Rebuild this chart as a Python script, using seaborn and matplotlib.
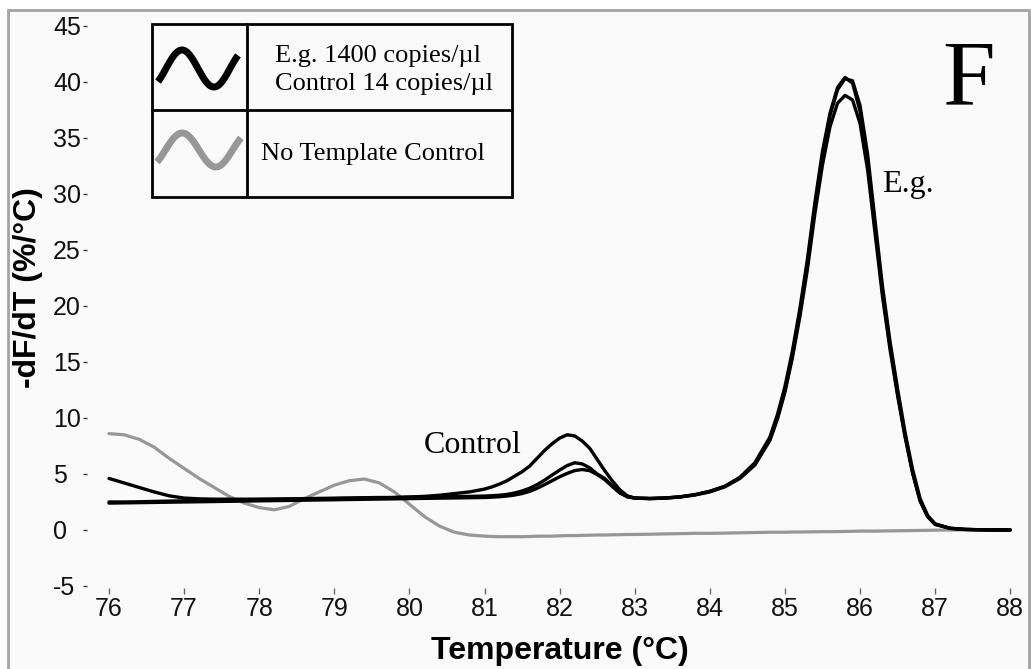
import numpy as np
import pandas as pd
import matplotlib
matplotlib.use("Agg")
import matplotlib.pyplot as plt
import seaborn as sns
from matplotlib.patches import Rectangle
from matplotlib.lines import Line2D

# ---------------- data ----------------
temps = [76.0, 76.2, 76.4, 76.6, 76.8, 77.0, 77.2, 77.4, 77.6, 77.8, 78.0, 78.2, 78.4,
         78.6, 78.8, 79.0, 79.2, 79.4, 79.6, 79.8, 80.0, 80.2, 80.4, 80.6, 80.8,
         81.0, 81.1, 81.2, 81.3, 81.4, 81.5, 81.6, 81.7, 81.8, 81.9, 82.0, 82.1,
         82.2, 82.3, 82.4, 82.5, 82.6, 82.7, 82.8, 82.9, 83.0,
         83.2, 83.4, 83.6, 83.8, 84.0, 84.2, 84.4, 84.6, 84.8,
         84.9, 85.0, 85.1, 85.2, 85.3, 85.4, 85.5, 85.6, 85.7, 85.8, 85.9, 86.0,
         86.1, 86.2, 86.3, 86.4, 86.5, 86.6, 86.7, 86.8, 86.9, 87.0,
         87.2, 87.4, 87.6, 87.8, 88.0]

no_template = [8.6, 8.5, 8.1, 7.4, 6.4, 5.5, 4.6, 3.8, 3.0, 2.4, 2.0, 1.8, 2.1,
               2.8, 3.4, 4.0, 4.4, 4.55, 4.2, 3.4, 2.3, 1.2, 0.35, -0.2, -0.45,
               -0.55, -0.58, -0.6, -0.6, -0.6, -0.6, -0.58, -0.56, -0.55, -0.55, -0.52, -0.5,
               -0.5, -0.48, -0.47, -0.45, -0.45, -0.43, -0.42, -0.4, -0.4,
               -0.38, -0.35, -0.33, -0.3, -0.3, -0.28, -0.25, -0.23, -0.2,
               -0.2, -0.2, -0.18, -0.18, -0.17, -0.16, -0.15, -0.15, -0.14, -0.13, -0.12, -0.1,
               -0.1, -0.1, -0.09, -0.08, -0.07, -0.06, -0.05, -0.04, -0.03, -0.02,
               0.0, 0.0, 0.0, 0.0, 0.0]

sample_a = [2.5, 2.5, 2.52, 2.55, 2.58, 2.6, 2.62, 2.65, 2.67, 2.7, 2.7, 2.72, 2.74,
            2.76, 2.78, 2.8, 2.82, 2.84, 2.86, 2.9, 2.95, 3.0, 3.1, 3.25, 3.4,
            3.65, 3.85, 4.1, 4.4, 4.8, 5.2, 5.7, 6.4, 7.1, 7.7, 8.2, 8.5,
            8.4, 7.95, 7.3, 6.3, 5.3, 4.4, 3.6, 3.05, 2.85,
            2.8, 2.85, 2.95, 3.15, 3.45, 3.9, 4.7, 6.0, 8.3,
            10.3, 12.8, 16.0, 19.8, 24.2, 29.3, 33.8, 37.2, 39.5, 40.4, 39.9, 37.4,
            33.0, 27.0, 21.2, 16.4, 12.2, 8.4, 5.1, 2.6, 1.2, 0.5,
            0.15, 0.05, 0.02, 0.0, 0.0]

sample_b = [4.6, 4.2, 3.8, 3.4, 3.05, 2.85, 2.78, 2.75, 2.75, 2.75, 2.76, 2.77, 2.78,
            2.8, 2.82, 2.84, 2.86, 2.88, 2.9, 2.9, 2.92, 2.94, 2.96, 2.98, 3.0,
            3.03, 3.06, 3.1, 3.18, 3.3, 3.48, 3.72, 4.05, 4.45, 4.9, 5.35, 5.75,
            6.0, 5.9, 5.55, 5.0, 4.6, 3.95, 3.35, 2.95, 2.85,
            2.82, 2.86, 2.96, 3.15, 3.45, 3.9, 4.65, 5.9, 8.1,
            10.0, 12.5, 15.6, 19.4, 23.8, 28.8, 33.4, 37.0, 39.3, 40.3, 40.1, 37.9,
            33.6, 27.6, 21.7, 16.8, 12.6, 8.7, 5.4, 2.8, 1.3, 0.55,
            0.15, 0.05, 0.02, 0.0, 0.0]

sample_c = [2.4, 2.42, 2.44, 2.46, 2.48, 2.5, 2.52, 2.54, 2.56, 2.58, 2.6, 2.62, 2.64,
            2.66, 2.68, 2.7, 2.72, 2.74, 2.76, 2.78, 2.8, 2.82, 2.84, 2.86, 2.88,
            2.9, 2.93, 2.97, 3.03, 3.12, 3.25, 3.45, 3.72, 4.05, 4.4, 4.75, 5.05,
            5.3, 5.4, 5.3, 4.95, 4.5, 3.9, 3.3, 3.0, 2.85,
            2.8, 2.84, 2.94, 3.12, 3.4, 3.85, 4.6, 5.8, 8.0,
            9.9, 12.3, 15.4, 19.1, 23.3, 28.3, 32.6, 36.0, 38.1, 38.8, 38.4, 36.3,
            32.2, 26.5, 20.8, 16.1, 12.0, 8.3, 5.1, 2.6, 1.2, 0.5,
            0.15, 0.05, 0.02, 0.0, 0.0]

x_ticks = [76, 77, 78, 79, 80, 81, 82, 83, 84, 85, 86, 87, 88]
y_ticks = [-5, 0, 5, 10, 15, 20, 25, 30, 35, 40, 45]

legend_lines = ["E.g. 1400 copies/\u00b5l", "Control 14 copies/\u00b5l"]
legend_ntc = "No Template Control"
x_label = "Temperature (\u00b0C)"
y_label = "-dF/dT (%/\u00b0C)"

# ---------------- build long-form table ----------------
frames = []
for name, vals in [("NTC", no_template), ("A", sample_a), ("B", sample_b), ("C", sample_c)]:
    frames.append(pd.DataFrame({"temp": temps, "value": vals, "curve": name}))
df = pd.concat(frames, ignore_index=True)

# ---------------- figure ----------------
sns.set_theme(style="white")
plt.rcParams["font.family"] = ["Liberation Sans", "DejaVu Sans"]
plt.rcParams["text.color"] = "black"

W, H = 1031, 669
fig = plt.figure(figsize=(W / 100, H / 100), dpi=100)
fig.patch.set_facecolor("white")


def fx(px):
    return np.asarray(px) / W


def fy(py):
    return 1 - np.asarray(py) / H


# outer grey frame with light background
fig.patches.append(Rectangle((fx(8), fy(675)), fx(1029) - fx(8), fy(10) - fy(675),
                             transform=fig.transFigure, facecolor="#fafafa",
                             edgecolor="#a3a3a3", lw=2.0, zorder=-10))

ax = fig.add_axes([fx(87), fy(588), fx(1020) - fx(87), fy(23.6) - fy(588)])
ax.set_facecolor("none")
ax.set_zorder(1)

grey = "#979797"
sns.lineplot(data=df[df["curve"] == "NTC"], x="temp", y="value", color=grey,
             linewidth=2.3, estimator=None, sort=False, ax=ax)
sns.lineplot(data=df[df["curve"] != "NTC"], x="temp", y="value", units="curve",
             color="black", linewidth=2.4, estimator=None, sort=False, ax=ax)

ax.set_xlim(75.707, 88.13)
ax.set_ylim(-5.18, 45.21)
ax.set_xticks(x_ticks)
ax.set_yticks(y_ticks)
ax.set_xticklabels([str(v) for v in x_ticks])
ax.set_yticklabels([str(v) for v in y_ticks])
ax.set_xlabel("")
ax.set_ylabel("")
for s in ax.spines.values():
    s.set_visible(False)

ax.tick_params(axis="x", bottom=True, direction="out", length=4.3, width=1.0,
               color="#666666", pad=2, labelsize=18, labelcolor="#111111")
ax.tick_params(axis="y", left=True, direction="out", length=3.0, width=1.0,
               color="#333333", pad=21.5, labelsize=18, labelcolor="#111111")
for t in ax.get_yticklabels():
    t.set_horizontalalignment("left")

# axis labels
fig.text(fx(560), fy(659), x_label, ha="center", va="baseline", fontsize=23,
         fontweight="bold", color="black")
fig.text(fx(28), fy(288), y_label, ha="center", va="center", rotation=90,
         fontsize=23, fontweight="bold", color="black")

# annotations
serif = ["Liberation Serif", "DejaVu Serif"]
ax.text(80.19, 6.9, "Control", fontsize=23, family=serif, ha="left", va="baseline",
        color="black")
ax.text(86.29, 30.2, "E.g.", fontsize=23, family=serif, ha="left", va="baseline",
        color="black")
fig.text(fx(942), fy(104), "F", fontsize=68, family=serif, ha="left", va="baseline",
         color="black")

# legend table (drawn above the axes)
L, R, T, B = 152, 512, 24, 197
VX, HY = 247, 110
fig.patches.append(Rectangle((fx(L), fy(B)), fx(R) - fx(L), fy(T) - fy(B),
                             transform=fig.transFigure, facecolor="#fafafa",
                             edgecolor="black", lw=2.0, zorder=5))
fig.lines.append(Line2D([fx(VX), fx(VX)], [fy(T), fy(B)], transform=fig.transFigure,
                        color="black", lw=2.0, zorder=6))
fig.lines.append(Line2D([fx(L), fx(R)], [fy(HY), fy(HY)], transform=fig.transFigure,
                        color="black", lw=2.0, zorder=6))

# wave glyphs
tt = np.linspace(-0.25 * np.pi, 2.25 * np.pi, 120)
for x0, x1, yc, amp, col in [(158, 238, 68.5, 18.5, "black"), (157, 241, 150, 17, grey)]:
    gx = x0 + (tt - tt[0]) / (tt[-1] - tt[0]) * (x1 - x0)
    gy = yc - amp * np.sin(tt)
    fig.lines.append(Line2D(fx(gx), fy(gy), transform=fig.transFigure, color=col,
                            lw=5.0, solid_capstyle="butt", zorder=7))

fig.text(fx(275), fy(62), legend_lines[0], fontsize=19, family=serif, ha="left",
         va="baseline", zorder=8, color="black")
fig.text(fx(275), fy(90), legend_lines[1], fontsize=19, family=serif, ha="left",
         va="baseline", zorder=8, color="black")
fig.text(fx(261), fy(160), legend_ntc, fontsize=19, family=serif, ha="left",
         va="baseline", zorder=8, color="black")

fig.savefig("out.png", dpi=100, facecolor=fig.get_facecolor())
